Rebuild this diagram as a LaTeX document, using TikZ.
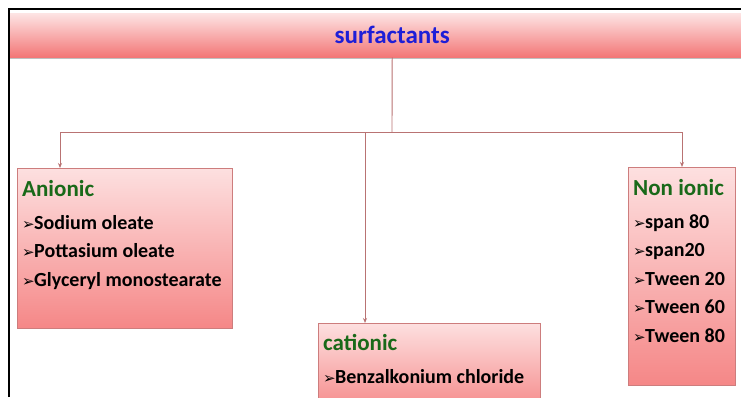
\documentclass[tikz,border=0pt]{standalone}
\usepackage{fontspec}
\setmainfont{Carlito}
\newfontfamily\symfont{DejaVu Sans}
\usetikzlibrary{arrows.meta}

\definecolor{headtop}{RGB}{253,228,228}
\definecolor{headbot}{RGB}{243,118,118}
\definecolor{boxtop}{RGB}{253,224,224}
\definecolor{boxbot}{RGB}{245,135,135}
\definecolor{boxline}{RGB}{205,125,125}
\definecolor{linkred}{RGB}{185,115,115}
\definecolor{ttlgreen}{RGB}{25,105,25}
\definecolor{headblue}{RGB}{30,30,215}

\newcommand\itm{\makebox[12pt][l]{\symfont\fontsize{15}{15}\selectfont ➢}}
\newcommand\ttl[1]{{\fontsize{23}{23}\selectfont\color{ttlgreen}#1}}

\tikzset{
  headbar/.style={anchor=north west, top color=headtop, bottom color=headbot,
    draw=none, font=\fontsize{25}{25}\selectfont\bfseries, text=headblue},
  catbox/.style={anchor=north west, draw=boxline, line width=0.6pt,
    top color=boxtop, bottom color=boxbot},
  cattext/.style={anchor=north west, align=left, inner sep=0pt,
    font=\fontsize{20}{28.5}\selectfont\bfseries},
  link/.style={draw=linkred, line width=0.9pt},
  arr/.style={link, -{Stealth[length=5pt,width=4pt]}}
}

\begin{document}
\begin{tikzpicture}[x=1pt,y=-1pt]
\clip (0,0) rectangle (741,397);
\fill[white] (0,0) rectangle (741,397);

%frame
\draw[line width=2pt] (9,397) -- (9,9) -- (741,9);

%title bar
\fill[black!25] (10,57) rectangle (741,59);
\node[headbar, minimum width=764pt, minimum height=44pt] (head) at (10,13) {surfactants};

%the three classes
\node[catbox, minimum width=215pt, minimum height=160pt] (anion) at (17,168) {};
\node[cattext] (anionT) at (22,180) {\ttl{Anionic}\\[4.5pt]
  \itm Sodium oleate\\ \itm Pottasium oleate\\ \itm Glyceryl monostearate};

\node[catbox, minimum width=222pt, minimum height=90pt] (cation) at (318,323) {};
\node[cattext] (cationT) at (323,334) {\ttl{cationic}\\[4.5pt]
  \itm Benzalkonium chloride};

\node[catbox, minimum width=107pt, minimum height=218pt] (nonion) at (628,167) {};
\node[cattext] (nonionT) at (633,179) {\ttl{Non ionic}\\[4.5pt]
  \itm span 80\\ \itm span20\\ \itm Tween 20\\ \itm Tween 60\\ \itm Tween 80};

%connectors
\coordinate (hub) at (392,132);
\coordinate (busL) at (60,132);
\coordinate (busM) at (365,132);
\coordinate (busR) at (682,132);

\draw[link] (head.south) -- (hub);
\draw[link] (busL) -- (busR);
\draw[arr] (busL) -- (busL |- anion.north);
\draw[arr] (busM) -- (busM |- cation.north);
\draw[arr] (busR) -- (busR |- nonion.north);
\end{tikzpicture}
\end{document}
